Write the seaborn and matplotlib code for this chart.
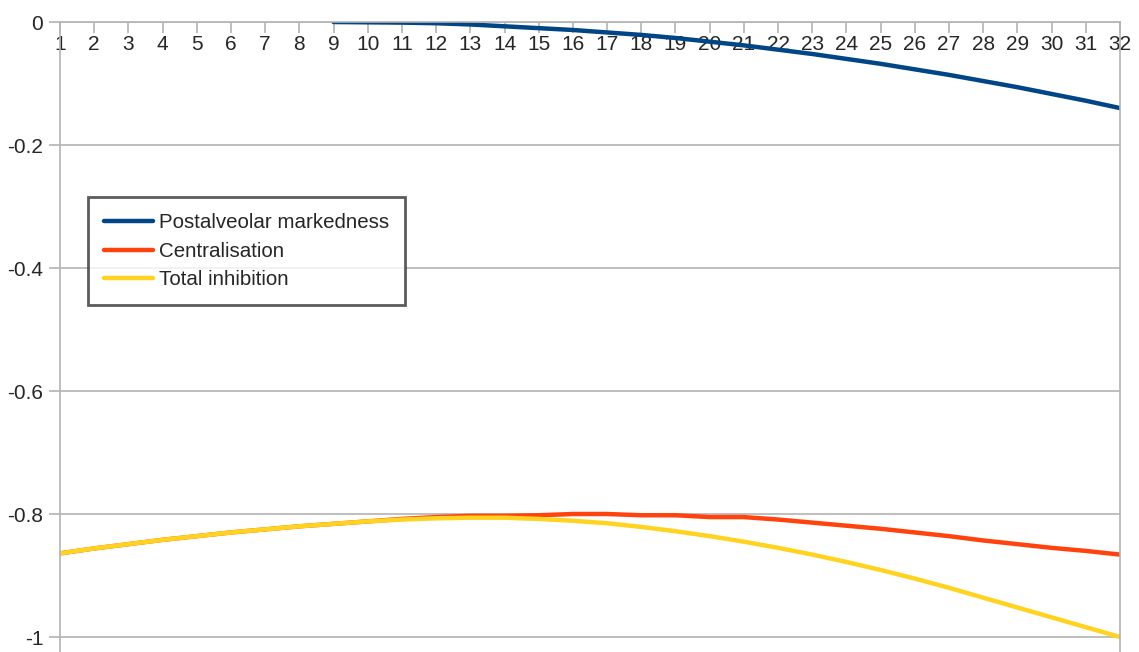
"""
Line chart: postalveolar markedness, centralisation and total inhibition
"""

import seaborn as sns
import matplotlib.pyplot as plt
import matplotlib.ticker as mticker
import pandas as pd

# Data
steps = list(range(1, 33))
postalveolar_steps = list(range(9, 33))
postalveolar = [-0.000, -0.0005, -0.001, -0.002, -0.004, -0.007, -0.010, -0.013,
                -0.017, -0.021, -0.026, -0.032, -0.038, -0.045, -0.052, -0.060,
                -0.068, -0.077, -0.086, -0.096, -0.106, -0.117, -0.128, -0.140]
centralisation = [-0.864, -0.856, -0.849, -0.842, -0.836, -0.830, -0.825, -0.820,
                  -0.816, -0.812, -0.808, -0.805, -0.803, -0.803, -0.802, -0.800,
                  -0.800, -0.802, -0.802, -0.805, -0.805, -0.809, -0.814, -0.819,
                  -0.824, -0.830, -0.836, -0.843, -0.849, -0.855, -0.860, -0.866]
total_inhibition = [-0.864, -0.856, -0.849, -0.842, -0.836, -0.830, -0.825, -0.820,
                    -0.816, -0.812, -0.809, -0.807, -0.806, -0.806, -0.808, -0.811,
                    -0.815, -0.821, -0.828, -0.836, -0.845, -0.855, -0.866, -0.878,
                    -0.891, -0.905, -0.920, -0.936, -0.952, -0.968, -0.984, -1.000]
series_names = ["Postalveolar markedness", "Centralisation", "Total inhibition"]
colors = ["#004586", "#ff420e", "#ffd320"]
y_ticks = [0, -0.2, -0.4, -0.6, -0.8, -1]

sns.set_theme(style="white")
plt.rcParams['font.family'] = ['Liberation Sans', 'DejaVu Sans']
plt.rcParams['axes.unicode_minus'] = False

data = pd.concat([
    pd.DataFrame({'Step': postalveolar_steps, 'Value': postalveolar, 'Series': series_names[0]}),
    pd.DataFrame({'Step': steps, 'Value': centralisation, 'Series': series_names[1]}),
    pd.DataFrame({'Step': steps, 'Value': total_inhibition, 'Series': series_names[2]}),
])

fig = plt.figure(figsize=(11.39, 6.52), dpi=100)
ax = fig.add_axes([60 / 1139, 1 - 657 / 652, 1060 / 1139, 635 / 652])

sns.lineplot(data=data, x='Step', y='Value', hue='Series', hue_order=series_names,
             palette=colors, linewidth=3.2, ax=ax, sort=False)

ax.set_xlim(1, 32)
ax.set_ylim(-1.0325, 0)
ax.set_xticks(steps)
ax.set_yticks(y_ticks)
ax.yaxis.set_major_formatter(mticker.FormatStrFormatter('%g'))
ax.set_xlabel('')
ax.set_ylabel('')

# x axis drawn at y = 0 with labels below it
ax.spines['bottom'].set_position(('data', 0))
ax.spines['top'].set_visible(False)
for side in ['bottom', 'left', 'right']:
    ax.spines[side].set_color('#b3b3b3')
    ax.spines[side].set_linewidth(1.2)

ax.grid(axis='y', color='#b3b3b3', linewidth=1.2)
ax.set_axisbelow(True)
ax.tick_params(axis='x', direction='out', length=8, width=1.2, color='#b3b3b3',
               labelsize=15, pad=1, bottom=True)
ax.tick_params(axis='y', direction='out', length=8, width=1.2, color='#b3b3b3',
               labelsize=15, pad=4, left=True)

handles, labels = ax.get_legend_handles_labels()
leg = ax.legend(handles, labels, loc='upper left', bbox_to_anchor=(28 / 1060, (657 - 197) / 635),
                borderaxespad=0, fontsize=14.8, frameon=True, fancybox=False,
                handlelength=2.35, handletextpad=0.3, borderpad=0.8, labelspacing=0.45)
leg.get_frame().set_edgecolor('#333333')
leg.get_frame().set_linewidth(2)
for line in leg.get_lines():
    line.set_linewidth(3.2)

plt.savefig('out.png', dpi=100)
plt.close()
